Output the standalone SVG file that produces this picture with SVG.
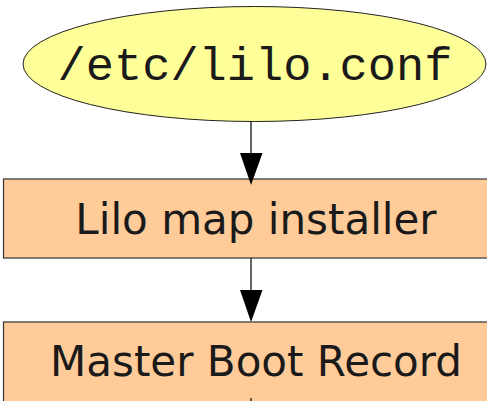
<svg xmlns="http://www.w3.org/2000/svg" width="487" height="401" viewBox="0 0 487 401">
<style>
.box{fill:#ffcc99;stroke:#333;stroke-width:1.2}
.ell{fill:#ffff99;stroke:#222;stroke-width:1}
.lbl{font-family:"DejaVu Sans",sans-serif;font-size:42px;fill:#1a1a1a;text-anchor:middle}
.mono{font-family:"Liberation Mono",monospace;font-size:47px;fill:#1a1a1a;text-anchor:middle}
.edge{stroke:#000;stroke-width:1.2;fill:none}
.head{fill:#000}
</style>
<rect width="487" height="401" fill="#fff"/>
<g id="node-lilo-conf">
<ellipse class="ell" cx="254.5" cy="64" rx="231.5" ry="57.5"/>
<text class="mono" x="255" y="80">/etc/lilo.conf</text>
</g>
<g id="node-map-installer">
<rect class="box" x="3.5" y="179" width="500" height="79"/>
<text class="lbl" x="256" y="234">Lilo map installer</text>
</g>
<g id="node-mbr">
<rect class="box" x="3.5" y="322" width="500" height="100"/>
<text class="lbl" x="256" y="376">Master Boot Record</text>
</g>
<g id="connectors">
<line class="edge" x1="251" y1="121.5" x2="251" y2="154"/>
<polygon class="head" points="240,153 262.5,153 251,185"/>
<line class="edge" x1="251" y1="258" x2="251" y2="291"/>
<polygon class="head" points="240,290 262.5,290 251,322"/>
<line class="edge" x1="251" y1="398" x2="251" y2="401"/>
</g>
</svg>
